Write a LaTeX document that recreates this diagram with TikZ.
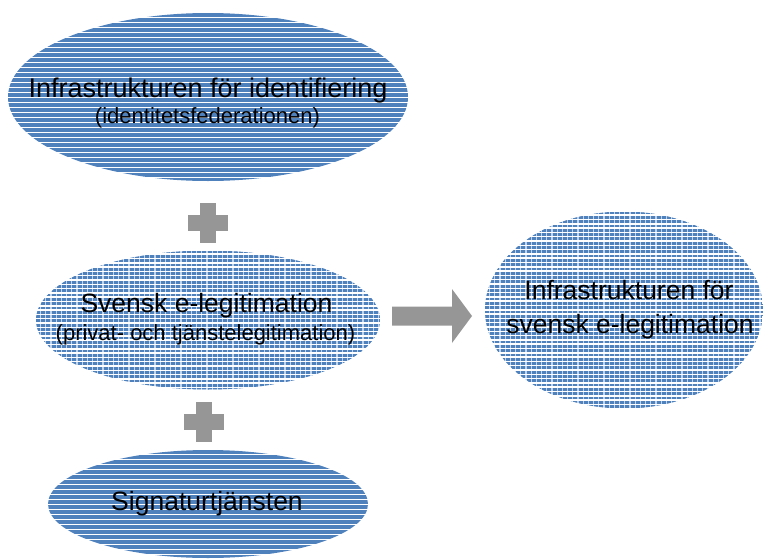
\documentclass[tikz,border=0pt]{standalone}
\usepackage{fontspec}
\setmainfont{Liberation Sans}
\usetikzlibrary{shapes.geometric}
\definecolor{stripeblue}{RGB}{79,129,189}
\definecolor{blockgray}{RGB}{150,150,150}
\tikzset{
  lined/.style={ellipse, inner sep=0pt, fill=white, path picture={
    \foreach \i in {0,...,45}{
      \draw[stripeblue, line width=3.2pt]
        ([yshift=-\i*5pt-2pt]path picture bounding box.north west) --
        ([yshift=-\i*5pt-2pt]path picture bounding box.north east);
    }}},
  dlined/.style={ellipse, inner sep=0pt, fill=white, path picture={
    \foreach \i in {0,...,50}{
      \draw[stripeblue!35, line width=2.8pt]
        ([yshift=-\i*4.3pt-1.5pt]path picture bounding box.north west) --
        ([yshift=-\i*4.3pt-1.5pt]path picture bounding box.north east);
      \draw[stripeblue, line width=2.8pt, dash pattern=on 4pt off 1.2pt]
        ([yshift=-\i*4.3pt-1.5pt]path picture bounding box.north west) --
        ([yshift=-\i*4.3pt-1.5pt]path picture bounding box.north east);
    }}},
  plusbox/.style={rectangle, inner sep=0pt, minimum width=40pt, minimum height=40pt,
    path picture={
      \fill[blockgray] ([shift={(-8pt,-20pt)}]path picture bounding box.center) rectangle ([shift={(8pt,20pt)}]path picture bounding box.center);
      \fill[blockgray] ([shift={(-20pt,-8pt)}]path picture bounding box.center) rectangle ([shift={(20pt,8pt)}]path picture bounding box.center);
    }},
  arrowbox/.style={rectangle, inner sep=0pt, minimum width=80pt, minimum height=54pt,
    path picture={
      \fill[blockgray] ([shift={(-40pt,9.5pt)}]path picture bounding box.center) --
        ([shift={(20pt,9.5pt)}]path picture bounding box.center) --
        ([shift={(20pt,27pt)}]path picture bounding box.center) --
        ([shift={(40pt,0pt)}]path picture bounding box.center) --
        ([shift={(20pt,-27pt)}]path picture bounding box.center) --
        ([shift={(20pt,-9.5pt)}]path picture bounding box.center) --
        ([shift={(-40pt,-9.5pt)}]path picture bounding box.center) -- cycle;
    }},
  big/.style={anchor=base, inner sep=0pt, font=\fontsize{26.5}{30}\selectfont},
  small/.style={anchor=base, inner sep=0pt, font=\fontsize{22}{26}\selectfont}
}
\begin{document}
\begin{tikzpicture}[x=1pt, y=-1pt]
\useasboundingbox (0,0) rectangle (764,560);
\node[lined, minimum width=400pt, minimum height=168pt] (e1) at (208,97) {};
\node[dlined, minimum width=344pt, minimum height=139pt] (e2) at (208,320) {};
\node[dlined, minimum width=278pt, minimum height=197pt] (e3) at (624,310) {};
\node[lined, minimum width=320pt, minimum height=108pt] (e4) at (208,504) {};
\node[plusbox] (p1) at (208,223) {};
\node[plusbox] (p2) at (204,422) {};
\node[arrowbox] (a1) at (432,316) {};
\node[big, font=\fontsize{27}{30}\selectfont] (t1a) at (208,97) {Infrastrukturen för identifiering};
\node[small] (t1b) at (207.5,123) {(identitetsfederationen)};
\node[big] (t2a) at (206.5,312) {Svensk e-legitimation};
\node[small] (t2b) at (205.5,340) {(privat- och tjänstelegitimation)};
\node[big] (t3a) at (629,299) {Infrastrukturen för};
\node[big] (t3b) at (630,333) {svensk e-legitimation};
\node[big] (t4) at (207,510) {Signaturtjänsten};
\end{tikzpicture}
\end{document}
